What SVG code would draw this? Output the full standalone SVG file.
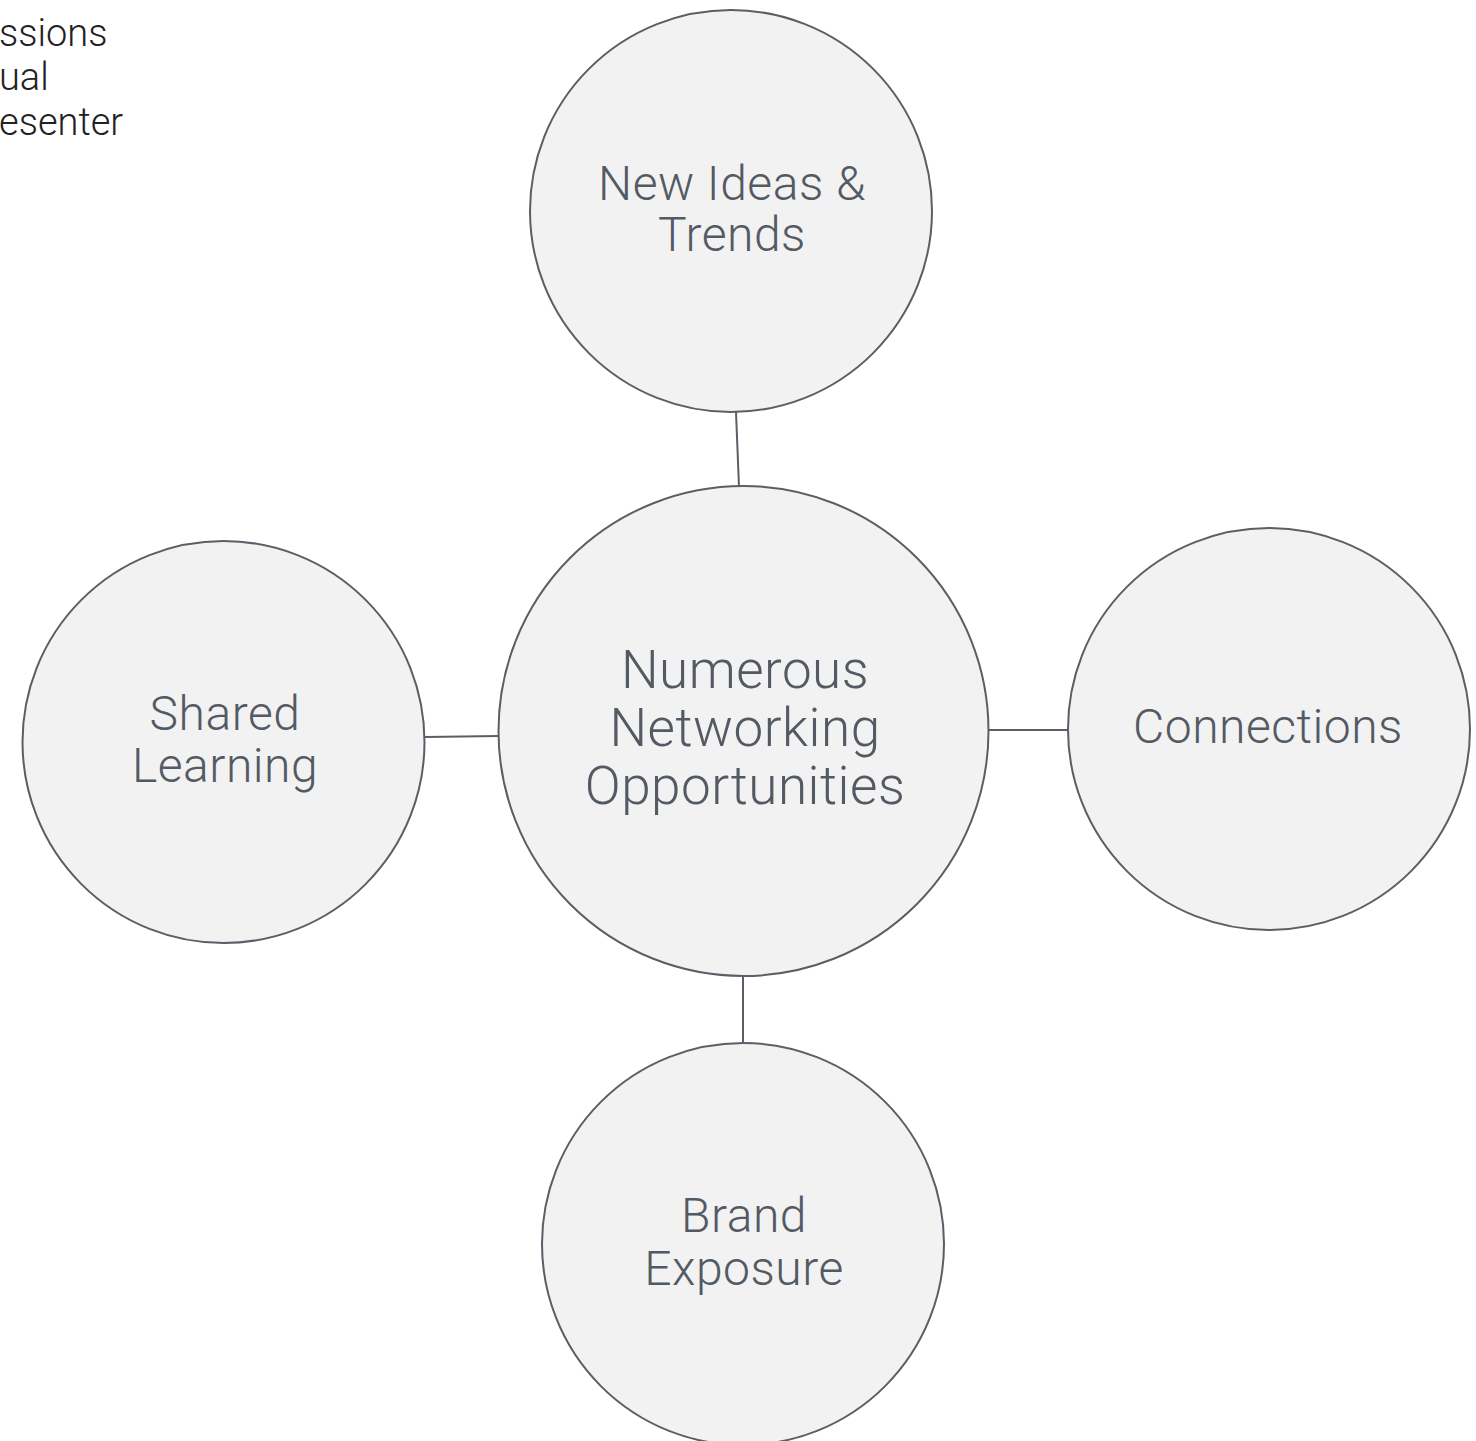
<svg xmlns="http://www.w3.org/2000/svg" width="1476" height="1441" viewBox="0 0 1476 1441">
  <style>
    .node circle { fill: #f2f2f2; stroke: #5a5e66; stroke-width: 2; }
    .label { font-family: Roboto, "Liberation Sans", sans-serif; font-weight: 300; fill: #545a63; text-anchor: middle; letter-spacing: 0.5px; }
    .sm { font-size: 48px; }
    .lg { font-size: 53px; }
    .edge { stroke: #5a5e66; stroke-width: 2; fill: none; }
    .note { font-family: Roboto, "Liberation Sans", sans-serif; font-weight: 300; font-size: 38px; fill: #222222; }
  </style>
  <rect width="1476" height="1441" fill="#ffffff"/>

  <g id="notes">
    <text class="note" x="-1" y="46">ssions</text>
    <text class="note" x="-1" y="90">ual</text>
    <text class="note" x="-1" y="135">esenter</text>
  </g>

  <g id="connectors">
    <line class="edge" x1="736" y1="412" x2="739" y2="487"/>
    <line class="edge" x1="425" y1="737" x2="499" y2="736"/>
    <line class="edge" x1="988" y1="730" x2="1068" y2="730"/>
    <line class="edge" x1="743" y1="975" x2="743" y2="1044"/>
  </g>

  <g id="node-trends" class="node">
    <circle cx="731" cy="211" r="201"/>
    <text class="label sm" x="732" y="200">New Ideas &amp;</text>
    <text class="label sm" x="732" y="251">Trends</text>
  </g>

  <g id="node-networking" class="node">
    <circle cx="743.5" cy="731" r="245"/>
    <text class="label lg" x="745" y="688">Numerous</text>
    <text class="label lg" x="745" y="746">Networking</text>
    <text class="label lg" x="745" y="804">Opportunities</text>
  </g>

  <g id="node-learning" class="node">
    <circle cx="223.5" cy="742" r="201"/>
    <text class="label sm" x="225" y="730">Shared</text>
    <text class="label sm" x="225" y="782">Learning</text>
  </g>

  <g id="node-connections" class="node">
    <circle cx="1269" cy="729" r="201"/>
    <text class="label sm" x="1268" y="743">Connections</text>
  </g>

  <g id="node-brand" class="node">
    <circle cx="743" cy="1244" r="201"/>
    <text class="label sm" x="744" y="1232">Brand</text>
    <text class="label sm" x="744" y="1285">Exposure</text>
  </g>
</svg>
